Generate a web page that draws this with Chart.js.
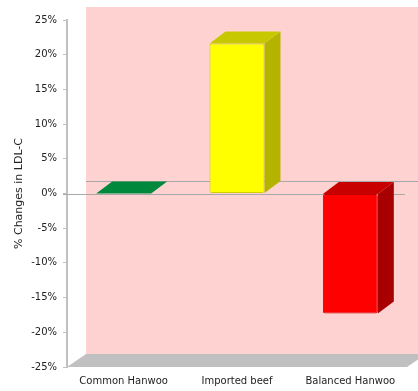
<!DOCTYPE html>
<html>
<head>
<meta charset="utf-8">
<script src="https://cdn.jsdelivr.net/npm/chart.js@4/dist/chart.umd.min.js"></script>
<style>
  html, body { margin: 0; padding: 0; background: #ffffff; }
  #wrap { width: 418px; height: 391px; }
</style>
</head>
<body>
<div id="wrap"><canvas id="chart" width="418" height="391"></canvas></div>
<script>
// data
const categories = ['Common Hanwoo', 'Imported beef', 'Balanced Hanwoo'];
const ldlChange = [0, 21.6, -17.3];
const yMin = -25;
const yMax = 25;
const yStep = 5;

// colours per bar: front, side, top
const frontColors = ['#00883c', '#ffff00', '#ff0000'];
const sideColors = ['#005f2a', '#b4b400', '#a80000'];
const topColors = ['#00883c', '#c8c800', '#c80000'];
const edgeColors = ['#00883c', '#d0d000', '#c00000'];

// 3D depth offsets
const WALL = { x: 19, y: -13 };
const BAR = { x: 16, y: -12 };

const fake3d = {
    id: 'fake3d',
    beforeDraw(chart) {
        const { ctx, chartArea: a } = chart;
        ctx.save();
        // back wall
        ctx.fillStyle = '#ffd2d2';
        ctx.fillRect(a.left + WALL.x, a.top + WALL.y, a.right - a.left + 20, a.bottom - a.top);
        // floor
        ctx.fillStyle = '#c0c0c0';
        ctx.beginPath();
        ctx.moveTo(a.left, a.bottom);
        ctx.lineTo(a.right, a.bottom);
        ctx.lineTo(a.right + WALL.x, a.bottom + WALL.y);
        ctx.lineTo(a.left + WALL.x, a.bottom + WALL.y);
        ctx.closePath();
        ctx.fill();
        ctx.restore();
    },
    beforeDatasetsDraw(chart) {
        const { ctx, chartArea: a } = chart;
        const y0 = chart.scales.y.getPixelForValue(0);
        ctx.save();
        ctx.strokeStyle = '#a8a8a8';
        ctx.lineWidth = 1;
        ctx.beginPath();
        ctx.moveTo(a.left + WALL.x, Math.round(y0 + WALL.y) + 0.5);
        ctx.lineTo(chart.width, Math.round(y0 + WALL.y) + 0.5);
        ctx.moveTo(a.left - 4, Math.round(y0) + 0.5);
        ctx.lineTo(a.right - 2, Math.round(y0) + 0.5);
        ctx.stroke();

        // side and top faces of each bar
        const meta = chart.getDatasetMeta(0);
        meta.data.forEach((bar, i) => {
            const p = bar.getProps(['x', 'y', 'base', 'width'], true);
            const l = p.x - p.width / 2;
            const r = p.x + p.width / 2;
            const top = Math.min(p.y, p.base);
            const bottom = Math.max(p.y, p.base);
            // side
            ctx.fillStyle = sideColors[i];
            ctx.beginPath();
            ctx.moveTo(r, top);
            ctx.lineTo(r + BAR.x, top + BAR.y);
            ctx.lineTo(r + BAR.x, bottom + BAR.y);
            ctx.lineTo(r, bottom);
            ctx.closePath();
            ctx.fill();
            // top
            ctx.fillStyle = topColors[i];
            ctx.beginPath();
            ctx.moveTo(l, top);
            ctx.lineTo(l + BAR.x, top + BAR.y);
            ctx.lineTo(r + BAR.x, top + BAR.y);
            ctx.lineTo(r, top);
            ctx.closePath();
            ctx.fill();
        });
        ctx.restore();
    }
};

new Chart(document.getElementById('chart'), {
    type: 'bar',
    data: {
        labels: categories,
        datasets: [{
            label: '% Changes in LDL-C',
            data: ldlChange,
            backgroundColor: frontColors,
            borderColor: edgeColors,
            borderWidth: [0, 1, 1],
            borderRadius: 2,
            borderSkipped: false,
            barPercentage: 0.485,
            categoryPercentage: 1
        }]
    },
    options: {
        responsive: false,
        animation: false,
        events: [],
        layout: { padding: { top: 20, right: 11, left: 0, bottom: 0 } },
        plugins: {
            legend: { display: false },
            tooltip: { enabled: false }
        },
        scales: {
            x: {
                afterFit(scale) { scale.height = 24; },
                grid: { display: false, drawTicks: false },
                border: { display: false },
                ticks: {
                    padding: 8,
                    color: '#222',
                    font: { family: 'DejaVu Sans', size: 10 },
                    maxRotation: 0
                }
            },
            y: {
                min: yMin,
                max: yMax,
                afterFit(scale) { scale.width = 67; },
                grid: { drawOnChartArea: false, tickLength: 4, color: '#c0c0c0', lineWidth: 1 },
                border: { color: '#c0c0c0', width: 2 },
                ticks: {
                    stepSize: yStep,
                    padding: 6,
                    color: '#222',
                    font: { family: 'DejaVu Sans', size: 10 },
                    callback: v => v + '%'
                },
                title: {
                    display: true,
                    text: '% Changes in LDL-C',
                    color: '#222',
                    font: { family: 'DejaVu Sans', size: 11 },
                    padding: { top: 13, bottom: 0 }
                }
            }
        }
    },
    plugins: [fake3d]
});
</script>
</body>
</html>
